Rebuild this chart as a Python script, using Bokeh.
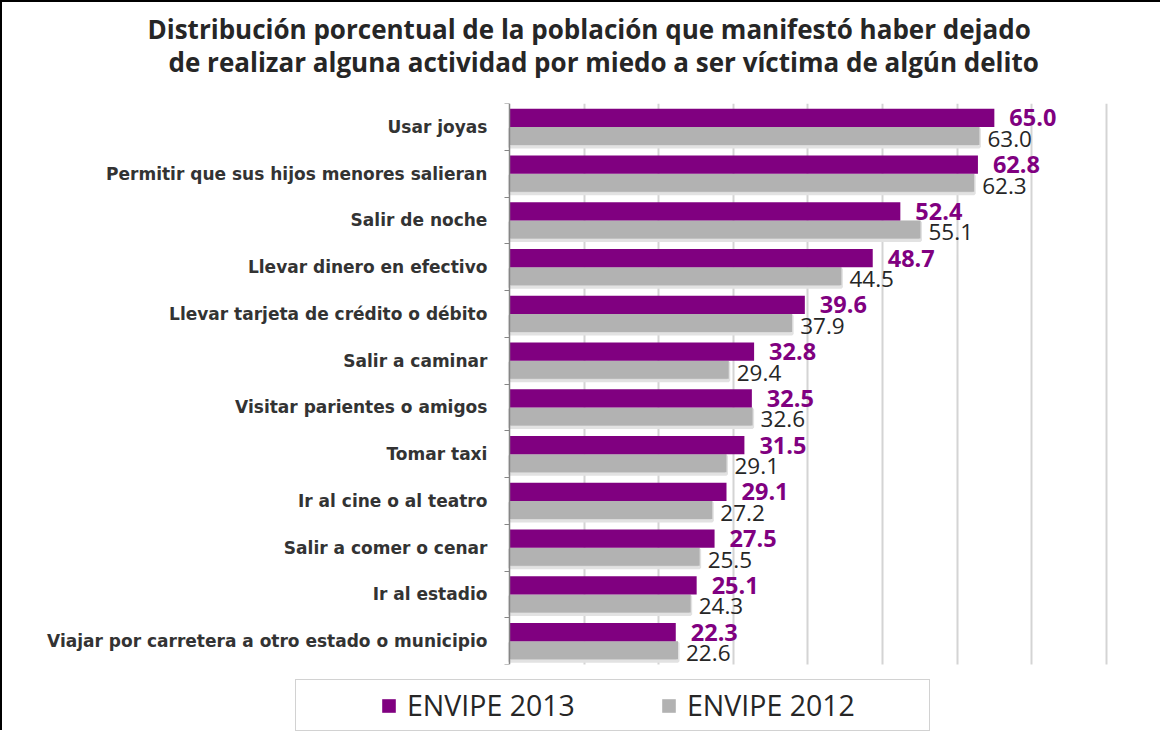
from bokeh.plotting import figure
from bokeh.models import (ColumnDataSource, Range1d, FixedTicker, SingleIntervalTicker,
                          Legend, LegendItem, Title, Grid, LinearAxis, BoxAnnotation)
from bokeh.transform import dodge
from bokeh.core.properties import value
from bokeh.embed import file_html
from bokeh.resources import INLINE

categories = [
    "Usar joyas",
    "Permitir que sus hijos menores salieran",
    "Salir de noche",
    "Llevar dinero en efectivo",
    "Llevar tarjeta de crédito o débito",
    "Salir a caminar",
    "Visitar parientes o amigos",
    "Tomar taxi",
    "Ir al cine o al teatro",
    "Salir a comer o cenar",
    "Ir al estadio",
    "Viajar por carretera a otro estado o municipio",
]
envipe_2013 = [65.0, 62.8, 52.4, 48.7, 39.6, 32.8, 32.5, 31.5, 29.1, 27.5, 25.1, 22.3]
envipe_2012 = [63.0, 62.3, 55.1, 44.5, 37.9, 29.4, 32.6, 29.1, 27.2, 25.5, 24.3, 22.6]
series_names = ["ENVIPE 2013", "ENVIPE 2012"]
title_lines = [
    "Distribución porcentual de la población que manifestó haber dejado",
    "de realizar alguna actividad por miedo a ser víctima de algún delito",
]

PURPLE = "#800080"
GRAY = "#b2b2b2"
TEXT = "#262626"

n = len(categories)
centers = [n - 0.5 - i for i in range(n)]

src = ColumnDataSource(dict(
    cat=categories, y=centers, v13=envipe_2013, v12=envipe_2012,
    l13=[f"{v:.1f}" for v in envipe_2013], l12=[f"{v:.1f}" for v in envipe_2012],
))

# ---- layout geometry (canvas pixels) ----
W, H = 1160, 730
FRAME_LEFT = 18          # plot area starts near the left edge (labels drawn inside)
AXIS_X = 507             # where value 0 sits
PLOT_TOP, PLOT_BOTTOM = 101, 662
X_MAX = 80
px_per_unit = (1104 - AXIS_X) / X_MAX
px_per_cat = (PLOT_BOTTOM - PLOT_TOP) / n
x_end = X_MAX + 0.3
x_start = -(AXIS_X - FRAME_LEFT) / px_per_unit
frame_right = AXIS_X + x_end * px_per_unit
y_start = -(H - PLOT_BOTTOM) / px_per_cat

p = figure(width=W, height=H, x_range=Range1d(x_start, x_end), y_range=Range1d(y_start, n),
           output_backend="svg", toolbar_location=None, title=None,
           x_axis_location=None, y_axis_location=None,
           min_border_left=FRAME_LEFT, min_border_right=int(round(W - frame_right)),
           min_border_top=PLOT_TOP, min_border_bottom=0)
p.outline_line_color = None
p.background_fill_color = "white"
p.border_fill_color = "white"
p.xgrid.grid_line_color = None
p.ygrid.grid_line_color = None
p.styles = {"border-left": "2px solid black", "border-top": "2px solid black"}

# vertical gridlines every 10 units
p.add_layout(Grid(dimension=0, ticker=SingleIntervalTicker(interval=10), bounds=(10, X_MAX),
                  grid_line_color="#d4d4d4", grid_line_width=2))
# keep the area below the bars clean
p.add_layout(BoxAnnotation(top=0, fill_color="white", fill_alpha=1, line_color=None))

# category axis: line at 0 with ticks between categories
yaxis = LinearAxis(ticker=FixedTicker(ticks=[], minor_ticks=list(range(n + 1))),
                   fixed_location=0, bounds=(0, n))
yaxis.major_tick_line_color = None
yaxis.major_tick_out = 0
yaxis.major_tick_in = 0
yaxis.major_label_standoff = 0
yaxis.minor_tick_line_color = "#868686"
yaxis.minor_tick_out = 5
yaxis.minor_tick_in = 0
yaxis.axis_line_color = "#868686"
yaxis.axis_line_width = 1.5
p.add_layout(yaxis, "left")

# category labels
p.text(x=0, y="y", text="cat", source=src, x_offset=-22, text_align="right",
       text_baseline="middle", text_font=value("DejaVu Sans"), text_font_style="bold",
       text_font_size="17px", text_color="#333333")

# shadow of gray bars
p.hbar(y=dodge("y", -0.235), height=0.39, left=0, right="v12", source=src,
       fill_color="#d2d2d2", line_color="#e2e2e2", line_width=3)
r12 = p.hbar(y=dodge("y", -0.195), height=0.39, left=0, right="v12", source=src,
             fill_color=GRAY, line_color=None)
r13 = p.hbar(y=dodge("y", 0.195), height=0.39, left=0, right="v13", source=src,
             fill_color=PURPLE, line_color=None)

p.text(x="v13", y=dodge("y", 0.195), text="l13", source=src, x_offset=15,
       text_baseline="middle", text_align="left", text_font=value("Open Sans"),
       text_font_style="bold", text_font_size="23.5px", text_color=PURPLE)
p.text(x="v12", y=dodge("y", -0.195), text="l12", source=src, x_offset=8, y_offset=3,
       text_baseline="middle", text_align="left", text_font=value("Open Sans"),
       text_font_style="normal", text_font_size="22.5px", text_color=TEXT)

# two title lines (second added first: nearest to the plot area)
t2 = Title(text=title_lines[1], align="left", offset=148, text_font="Open Sans",
           text_font_size="26px", text_font_style="bold", text_color=TEXT, standoff=48)
t1 = Title(text=title_lines[0], align="left", offset=127, text_font="Open Sans",
           text_font_size="26px", text_font_style="bold", text_color=TEXT, standoff=-58)
p.add_layout(t2, "above")
p.add_layout(t1, "above")

legend = Legend(items=[LegendItem(label=series_names[0], renderers=[r13]),
                       LegendItem(label=series_names[1], renderers=[r12])],
                orientation="horizontal", location=(293 - FRAME_LEFT, 1), padding=6, margin=0,
                spacing=17, label_width=236, glyph_width=17, glyph_height=17,
                label_standoff=10, title=" ", title_location="left",
                title_standoff=77, title_text_font_size="1px",
                label_text_font="Open Sans", label_text_font_size="28.5px",
                label_text_color=TEXT, border_line_color="#a6a6a6",
                border_line_width=1.5, background_fill_color="white",
                background_fill_alpha=1)
p.add_layout(legend, "center")

open("out.html", "w").write(file_html(p, INLINE))
